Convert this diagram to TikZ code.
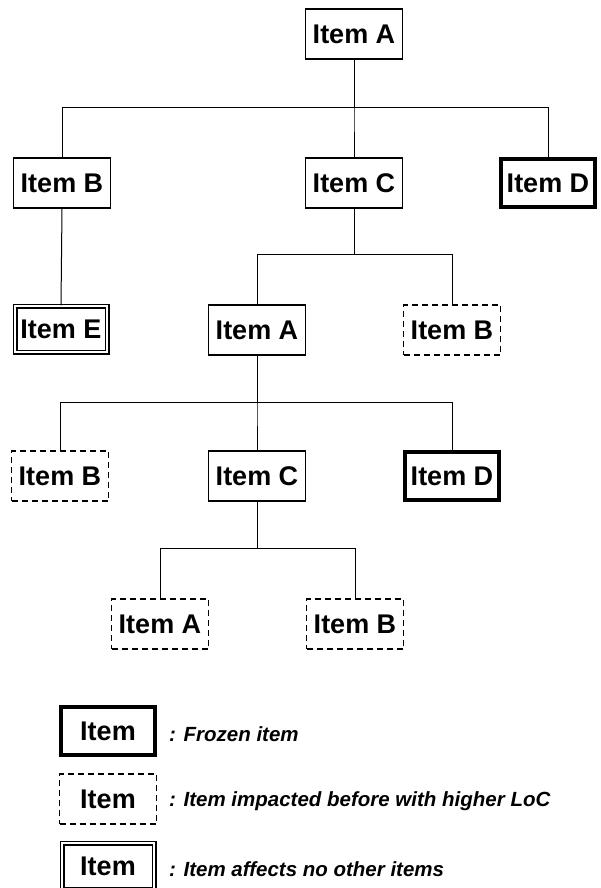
\documentclass[tikz,border=0pt]{standalone}
\usepackage{fontspec}
\setmainfont{Liberation Sans}
\begin{document}
\begin{tikzpicture}[x=1pt,y=-1pt,
  item/.style={draw=black, line width=1.2pt, minimum width=97pt, minimum height=50pt, inner sep=0pt,
    font=\fontsize{27}{32}\selectfont\bfseries, fill=white},
  frozen/.style={item, line width=4pt, minimum width=94pt, minimum height=48pt},
  impacted/.style={item, dash pattern=on 6pt off 4pt},
  leaf/.style={item, double, double distance=2.6pt, line width=1.2pt, minimum width=92pt, minimum height=46pt},
  conn/.style={draw=black, line width=1pt},
  legtext/.style={anchor=west, font=\fontsize{20.5}{24}\selectfont\bfseries\itshape, inner sep=0pt}]
\useasboundingbox (0,0) rectangle (601,888);
% tree
\node[item] (a1) at (354,34) {Item A};
\node[item] (b1) at (62,183) {Item B};
\node[item] (c1) at (354,183) {Item C};
\node[frozen] (d1) at (548,183) {Item D};
\node[leaf] (e1) at (61,329) {Item E};
\node[item] (a2) at (257,330) {Item A};
\node[impacted] (b2) at (452,330) {Item B};
\node[impacted] (b3) at (60,476) {Item B};
\node[item] (c3) at (257,476) {Item C};
\node[frozen] (d3) at (452,476) {Item D};
\node[impacted] (a4) at (160,624) {Item A};
\node[impacted] (b4) at (355,624) {Item B};
% connectors
\foreach \c in {b1,c1,d1} \draw[conn] (a1.south) -- ++(0,48) -| (\c.north);
\draw[conn] (b1.south) -- (e1.north);
\foreach \c in {a2,b2} \draw[conn] (c1.south) -- ++(0,46) -| (\c.north);
\foreach \c in {b3,c3,d3} \draw[conn] (a2.south) -- ++(0,47) -| (\c.north);
\foreach \c in {a4,b4} \draw[conn] (c3.south) -- ++(0,47) -| (\c.north);
% legend
\node[frozen] (l1) at (108,731) {Item};
\node[impacted] (l2) at (108,799) {Item};
\node[leaf] (l3) at (108,866) {Item};
\node[legtext] (t1) at (169,734) {: Frozen item};
\node[legtext] (t2) at (169,801) {: Item impacted before with higher LoC};
\node[legtext] (t3) at (169,869) {: Item affects no other items};
\end{tikzpicture}
\end{document}
